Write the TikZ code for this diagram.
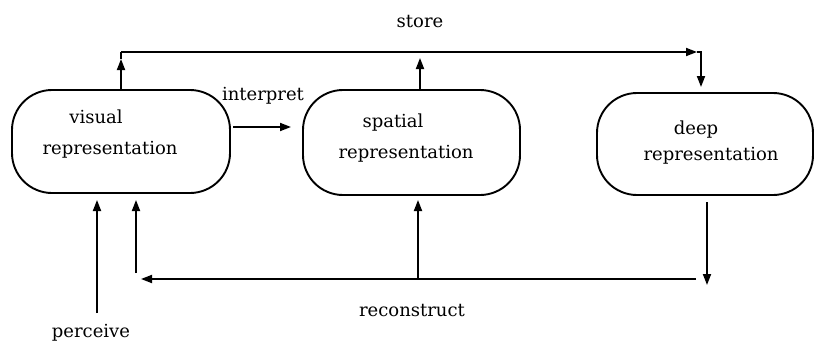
\documentclass[tikz,border=0pt]{standalone}
\usepackage{fontspec}
\setmainfont{DejaVu Serif}
\usetikzlibrary{arrows.meta}
\begin{document}
\begin{tikzpicture}[x=1pt,y=-1pt,
  every node/.style={font=\fontsize{18}{31}\selectfont},
  box/.style={draw, line width=1.9pt, rounded corners=40pt, inner sep=0pt},
  txt/.style={align=center, inner sep=0pt},
  lbl/.style={inner sep=0pt},
  ln/.style={line width=1.8pt},
  arr/.style={line width=1.8pt, -{Triangle[length=11pt,width=8pt]}}]
\useasboundingbox (0,0) rectangle (816,345);
% boxes
\node[box, minimum width=218pt, minimum height=103pt] (vis) at (121,141.5) {};
\node[box, minimum width=217pt, minimum height=105pt] (spa) at (411.5,142.5) {};
\node[box, minimum width=216pt, minimum height=102pt] (dep) at (705,144) {};
% box texts
\node[txt] (vist) at (110,134) {\hspace*{-28pt}visual\\representation};
\node[txt] (spat) at (406,138) {\hspace*{-26pt}spatial\\representation};
\node[txt] (dept) at (711,143) {\hspace*{-30pt}deep\\[-5pt]representation};
% labels
\node[lbl] (store) at (420,22) {store};
\node[lbl] (interp) at (263,96) {interpret};
\node[lbl] (perc) at (91,333) {perceive};
\node[lbl] (recon) at (412,311) {reconstruct};
% coordinates
\coordinate (sA) at (121,52);
\coordinate (sAt) at (121,59);
\coordinate (sR) at (697,52);
\coordinate (sB) at (701,52);
\coordinate (dT) at (701,87);
\coordinate (sSb) at (420,90);
\coordinate (sSt) at (420,58);
\coordinate (ia) at (233,127);
\coordinate (ib) at (291,127);
\coordinate (pB) at (97,313);
\coordinate (pT) at (97,200);
\coordinate (dB0) at (707,202);
\coordinate (dB1) at (707,285);
\coordinate (rR) at (696,279);
\coordinate (rL) at (141,279);
\coordinate (sBb) at (418,279);
\coordinate (sBt) at (418,200);
\coordinate (vB0) at (136,273);
\coordinate (vBt) at (136,200);
% store
\draw[arr] (vis.north) -- (sAt);
\draw[ln] (sAt) -- (sA);
\draw[arr] (sA) -- (sR);
\draw[arr] (sR) -- (sB) -- (dT);
\draw[arr] (sSb) -- (sSt);
% interpret
\draw[arr] (ia) -- (ib);
% perceive
\draw[arr] (pB) -- (pT);
% reconstruct
\draw[arr] (dB0) -- (dB1);
\draw[arr] (rR) -- (rL);
\draw[arr] (sBb) -- (sBt);
\draw[arr] (vB0) -- (vBt);
\end{tikzpicture}
\end{document}
